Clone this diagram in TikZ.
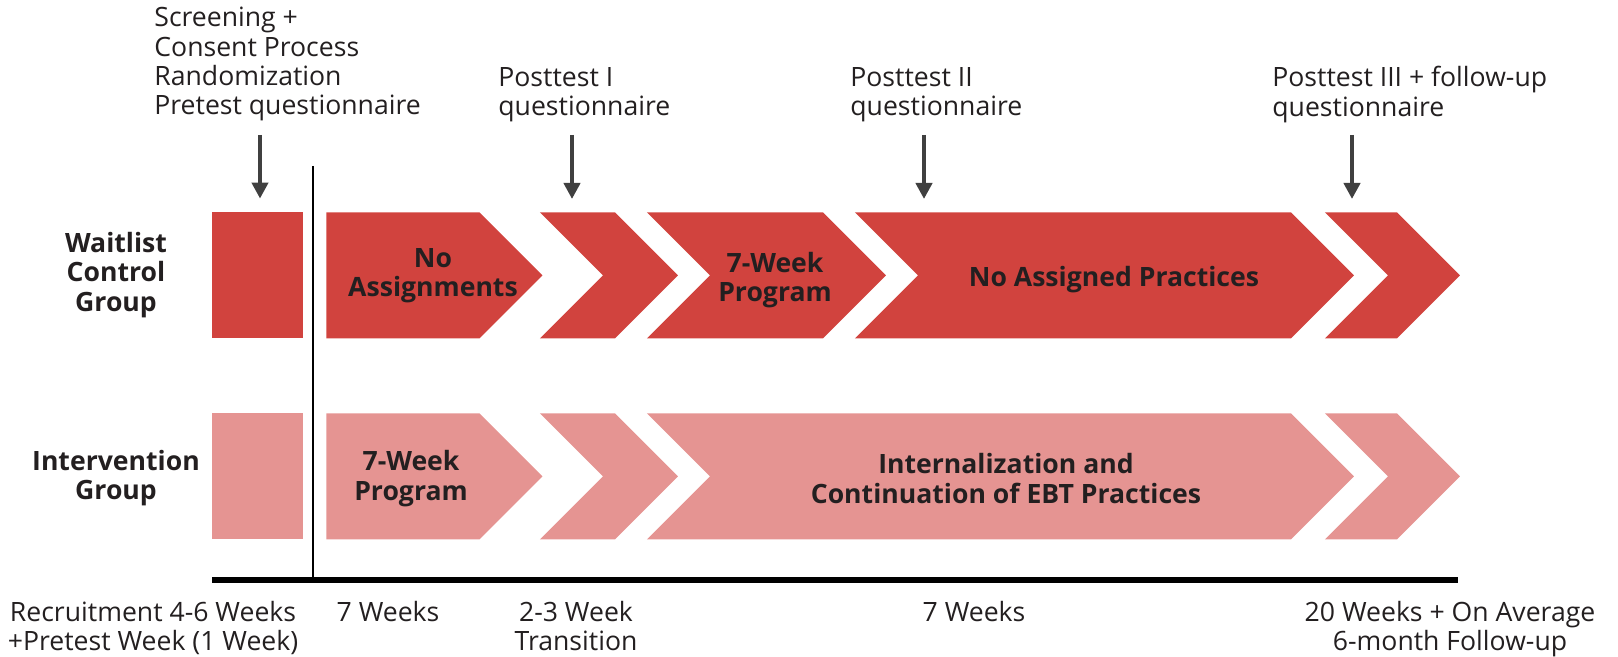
\documentclass[tikz,border=0pt]{standalone}
\usepackage{fontspec}
\setmainfont{Open Sans}
\usetikzlibrary{shapes.symbols, arrows.meta, positioning}

\definecolor{waitred}{RGB}{209,67,62}
\definecolor{interpink}{RGB}{229,148,146}
\definecolor{inkdark}{RGB}{35,31,32}
\definecolor{arrowgray}{RGB}{64,64,64}

\begin{document}
\begin{tikzpicture}[x=0.5pt, y=-0.5pt, inner sep=0pt, text=inkdark,
    font=\fontsize{13.3}{14.65}\selectfont,
    block/.style={rectangle, minimum height=63pt},
    phase/.style={signal, signal pointer angle=90, signal to=east, minimum height=63pt, anchor=north west},
    notched/.style={signal from=west},
    phasetext/.style={align=center, font=\fontsize{13.3}{14.65}\selectfont\bfseries},
    grouplabel/.style={align=center, font=\fontsize{13.3}{14.65}\selectfont\bfseries},
    toplbl/.style={anchor=north west, align=left},
    timelbl/.style={anchor=north, align=center},
    down/.style={-{Triangle[width=8pt, length=8pt]}, line width=2pt, draw=arrowgray, shorten >=6.5pt}]
  \useasboundingbox (0,0) rectangle (1618,657);

  % Gruppen links
  \node[grouplabel] (waitlbl) at (116,275) {Waitlist\\Control\\Group};
  \node[grouplabel] (interlbl) at (116,478) {Intervention\\Group};

  % Waitlist Control Group (obere Reihe)
  \node[block, fill=waitred, minimum width=45.5pt] (waitpre) at (257.5,275) {};
  \node[phase, fill=waitred, minimum width=108pt] (waitfirst) at (326,212) {};
  \node[phase, notched, fill=waitred, minimum width=69pt] (waittrans) at (539,212) {};
  \node[phase, notched, fill=waitred, minimum width=119.5pt] (waitprog) at (646,212) {};
  \node[phase, notched, fill=waitred, minimum width=249.5pt] (waitfree) at (854,212) {};
  \node[phase, notched, fill=waitred, minimum width=67.5pt] (waitfollow) at (1324,212) {};
  \node[phasetext] (waitfirsttxt) at (433,276) {No\\Assignments};
  \node[phasetext] (waitprogtxt) at (775,280) {7-Week\\Program};
  \node[phasetext] (waitfreetxt) at (1114,280) {No Assigned Practices};

  % Intervention Group (untere Reihe)
  \node[block, fill=interpink, minimum width=45.5pt] (interpre) at (257.5,476) {};
  \node[phase, fill=interpink, minimum width=108pt] (interprog) at (326,413) {};
  \node[phase, notched, fill=interpink, minimum width=69pt] (intertrans) at (539,413) {};
  \node[phase, notched, fill=interpink, minimum width=353.5pt] (intercont) at (646,413) {};
  \node[phase, notched, fill=interpink, minimum width=67.5pt] (interfollow) at (1324,413) {};
  \node[phasetext] (interprogtxt) at (411,478.5) {7-Week\\Program};
  \node[phasetext] (intercontxt) at (1006,478.5) {Internalization and\\Continuation of EBT Practices};

  % Messzeitpunkte
  \node[toplbl] (prelbl) at (154,7) {Screening +\\Consent Process\\Randomization\\Pretest questionnaire};
  \node[toplbl] (postIlbl) at (498,67) {Posttest I\\questionnaire};
  \node[toplbl] (postIIlbl) at (850,67) {Posttest II\\questionnaire};
  \node[toplbl] (postIIIlbl) at (1272,66) {Posttest III + follow-up\\questionnaire};

  \coordinate (prearrow) at (260,135);
  \coordinate (postIarrow) at (572,135);
  \coordinate (postIIarrow) at (924,135);
  \coordinate (postIIIarrow) at (1352,135);
  \draw[down] (prearrow) -- (prearrow |- waitpre.north);
  \draw[down] (postIarrow) -- (postIarrow |- waittrans.north);
  \draw[down] (postIIarrow) -- (postIIarrow |- waitfree.north);
  \draw[down] (postIIIarrow) -- (postIIIarrow |- waitfollow.north);

  % Zeitachse
  \coordinate (axisstart) at (212,580);
  \coordinate (axisend) at (1458,580);
  \coordinate (divtop) at (313,166);
  \draw[line width=3pt] (axisstart) -- (axisend);
  \draw[line width=1.25pt] (divtop) -- (divtop |- axisstart);

  \node[timelbl] (recruitlbl) at (153,601) {Recruitment 4-6 Weeks\\+Pretest Week (1 Week)};
  \node[timelbl] (firstlbl) at (388,601) {7 Weeks};
  \node[timelbl] (translbl) at (576,601) {2-3 Week\\Transition};
  \node[timelbl] (secondlbl) at (974,601) {7 Weeks};
  \node[timelbl] (followlbl) at (1450,601) {20 Weeks + On Average\\6-month Follow-up};
\end{tikzpicture}
\end{document}
